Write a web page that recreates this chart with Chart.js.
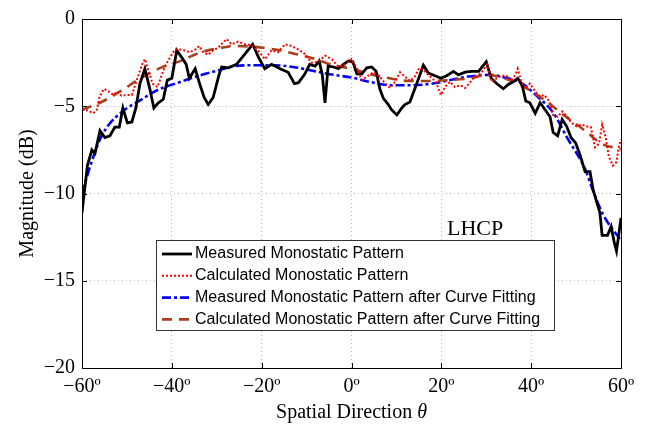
<!DOCTYPE html>
<html>
<head>
<meta charset="utf-8">
<script src="https://cdn.jsdelivr.net/npm/chart.js@4.4.1/dist/chart.umd.min.js"></script>
<style>
  html, body { margin: 0; padding: 0; background: #fff; }
  #wrap { width: 660px; height: 430px; position: relative; }
</style>
</head>
<body>
<div id="wrap"><canvas id="grafico" width="660" height="430"></canvas></div>
<script>
// Data
const measAngle = [-60, -58.8, -57.8, -57.1, -56, -54.9, -53.8, -52.7, -51.7, -50.9, -49.9, -48.9, -48, -47.1, -46, -44.9, -44, -43, -41.9, -41, -40, -38.9, -37.8, -36.8, -36.1, -34.8, -33.7, -32.8, -31.9, -30.8, -29.5, -28.9, -27.4, -25.6, -23.7, -22, -20.7, -19.3, -17.8, -15.9, -14.1, -12.7, -11.8, -10.4, -9.3, -8.1, -7.2, -6.5, -5.9, -5.2, -4, -2.9, -1.8, -0.7, 0.3, 1.2, 2.3, 3.4, 4.5, 5.5, 6.3, 7.1, 8.2, 8.9, 10.1, 11.2, 11.9, 13, 14.1, 15.3, 16, 17.1, 18.6, 19.9, 21.2, 22.7, 23.8, 25.3, 26.8, 28.3, 29.4, 30, 31.1, 32.3, 33.8, 34.9, 36, 37, 38, 38.8, 39.7, 40.9, 42, 43.1, 44.2, 44.9, 45.9, 46.9, 47.9, 48.9, 49.9, 50.9, 52, 53.1, 53.8, 54.6, 55.3, 55.8, 57, 57.8, 58.5, 59, 60];
const measDb = [-11.1, -8.4, -7.5, -7.7, -6.4, -6.8, -6.7, -6.2, -6.2, -5.1, -5.95, -5.9, -5.1, -3.7, -2.85, -4.0, -5.1, -4.8, -4.6, -3.5, -3.4, -1.8, -2.2, -2.6, -3.4, -2.85, -3.8, -4.5, -4.9, -4.5, -3.2, -2.75, -2.8, -2.6, -2.0, -1.45, -2.2, -2.85, -2.6, -2.85, -3.05, -3.7, -3.65, -3.15, -2.6, -2.7, -2.4, -3.2, -4.8, -2.7, -2.75, -2.85, -2.6, -2.4, -2.45, -3.15, -3.15, -2.8, -2.75, -3.0, -4.0, -4.55, -4.9, -5.2, -5.5, -5.1, -4.9, -4.75, -4.0, -3.15, -2.65, -3.1, -3.25, -3.4, -3.25, -3.0, -3.2, -3.05, -3.0, -3.0, -2.65, -2.45, -3.4, -3.7, -4.0, -3.75, -3.6, -3.4, -3.8, -4.7, -4.8, -5.4, -4.8, -5.2, -5.6, -6.5, -6.7, -5.75, -6.15, -6.8, -7.1, -7.8, -8.75, -8.75, -9.8, -10.5, -11.1, -12.4, -12.4, -11.9, -12.8, -13.3, -11.4];

const calcAngle = [-60, -58.6, -57.5, -56.7, -56.1, -55.1, -54.1, -53, -52.1, -51.2, -50, -48.9, -47.8, -46.7, -46, -45.2, -44.3, -43.2, -42.3, -41.3, -40.4, -39.3, -38.2, -37.1, -36, -34.8, -33.9, -33, -31.9, -30.8, -29.7, -29, -27.8, -26.7, -25.2, -23.7, -22.3, -20.7, -19.3, -17.8, -16.3, -14.8, -13.3, -11.8, -10.4, -8.9, -7.4, -5.9, -4.4, -2.9, -1.4, 0, 1.2, 2.3, 3.7, 4.9, 6.3, 7.5, 8.6, 9.7, 10.8, 11.9, 13, 14.1, 15.1, 16.1, 17.5, 18.8, 19.9, 20.8, 21.9, 23, 24.2, 25.3, 26.2, 27.1, 28.2, 29.3, 30.2, 31.2, 32.3, 33.4, 34.5, 35.5, 36.6, 37, 37.7, 38.8, 39.7, 40.9, 42, 42.9, 44, 44.9, 45.9, 46.9, 47.9, 49, 50.1, 51.2, 52.3, 53.3, 54.2, 55.1, 55.8, 56.6, 57.3, 58.2, 59, 59.4, 60];
const calcDb = [-5.2, -5.25, -5.4, -5.2, -4.45, -4.0, -4.15, -4.35, -4.15, -4.4, -4.35, -4.35, -3.5, -2.65, -2.3, -2.95, -3.7, -3.9, -3.25, -2.6, -2.2, -1.75, -1.75, -1.8, -1.9, -1.75, -1.55, -1.9, -2.05, -1.8, -1.65, -1.45, -1.15, -1.45, -1.3, -1.45, -1.5, -1.85, -2.3, -1.8, -1.9, -1.45, -1.55, -1.75, -2.0, -2.5, -2.45, -2.1, -2.3, -2.75, -2.6, -2.3, -2.85, -3.5, -3.25, -3.05, -3.3, -3.7, -3.95, -3.6, -3.05, -3.3, -3.55, -3.3, -2.8, -2.95, -3.3, -3.6, -4.35, -3.9, -3.6, -3.9, -3.8, -3.95, -3.7, -3.4, -3.25, -2.95, -2.6, -3.6, -3.4, -3.25, -3.25, -3.55, -3.15, -2.85, -3.5, -4.0, -3.7, -4.15, -4.45, -4.35, -4.7, -5.5, -5.6, -5.3, -5.55, -5.95, -6.15, -6.05, -6.15, -6.2, -7.35, -7.15, -6.05, -6.8, -7.9, -8.4, -8.2, -7.45, -6.9];

const measFitAngle = [-60, -58, -56, -54, -51, -47, -43, -38, -34, -29, -26, -21, -17, -13, -8, -4, 0, 4, 9, 13, 18, 22, 26, 31, 34, 38, 41, 45, 48, 52, 54, 56, 60];
const measFitDb = [-10.0, -8.3, -6.9, -6.05, -5.3, -4.65, -4.05, -3.6, -3.25, -2.9, -2.7, -2.65, -2.65, -2.75, -3.0, -3.2, -3.35, -3.6, -3.8, -3.8, -3.7, -3.5, -3.3, -3.2, -3.35, -3.7, -4.35, -5.4, -6.8, -8.6, -10.0, -11.2, -12.7];

const calcFitAngle = [-60, -56, -51.5, -47, -42.5, -38, -34, -29, -26, -21.5, -17, -12.5, -8, -4, 0, 4, 8.5, 13, 17.5, 22, 26.5, 30, 34, 38.5, 43, 47.5, 52, 55.7, 60];
const calcFitDb = [-5.2, -4.8, -4.15, -3.4, -2.8, -2.4, -1.95, -1.65, -1.55, -1.6, -1.75, -2.0, -2.3, -2.65, -2.85, -3.15, -3.4, -3.55, -3.55, -3.5, -3.4, -3.2, -3.4, -3.9, -4.65, -5.55, -6.4, -7.15, -7.45];

const xTicks = [-60, -40, -20, 0, 20, 40, 60];
const yTicks = [0, -5, -10, -15, -20];

const seriesNames = [
    'Measured Monostatic Pattern',
    'Calculated Monostatic Pattern',
    'Measured Monostatic Pattern after Curve Fitting',
    'Calculated Monostatic Pattern after Curve Fitting'
];

function pontos(xs, ys) {
    return xs.map((x, i) => ({ x: x, y: ys[i] }));
}

function comMenos(v) {
    return (v < 0 ? '\u2212' : '') + Math.abs(v);
}

const estilos = [
    { color: '#000000', width: 2.8, dash: [] },
    { color: '#ff0000', width: 2, dash: [2, 2] },
    { color: '#0000ff', width: 2.6, dash: [9, 3, 3, 3] },
    { color: '#a8401c', width: 2.6, dash: [10, 7] }
];

const dados = [
    pontos(measAngle, measDb),
    pontos(calcAngle, calcDb),
    pontos(measFitAngle, measFitDb),
    pontos(calcFitAngle, calcFitDb)
];

// Draw order: fitted lines on top like the picture
const ordem = [1, 0, 3, 2];

// Frame, inward ticks, legend box, LHCP label, x title
const moldura = {
    id: 'moldura',
    afterDraw(chart) {
        const ctx = chart.ctx;
        const a = chart.chartArea;
        const xs = chart.scales.x, ys = chart.scales.y;
        ctx.save();
        ctx.strokeStyle = '#000';
        ctx.lineWidth = 1;
        ctx.setLineDash([]);
        ctx.strokeRect(Math.round(a.left) + 0.5, Math.round(a.top) + 0.5, Math.round(a.right - a.left), Math.round(a.bottom - a.top));
        ctx.beginPath();
        xTicks.forEach(t => {
            const px = Math.round(xs.getPixelForValue(t)) + 0.5;
            ctx.moveTo(px, a.bottom); ctx.lineTo(px, a.bottom - 5);
            ctx.moveTo(px, a.top); ctx.lineTo(px, a.top + 5);
        });
        yTicks.forEach(t => {
            const py = Math.round(ys.getPixelForValue(t)) + 0.5;
            ctx.moveTo(a.left, py); ctx.lineTo(a.left + 5, py);
            ctx.moveTo(a.right, py); ctx.lineTo(a.right - 5, py);
        });
        ctx.stroke();

        // LHCP
        ctx.fillStyle = '#000';
        ctx.font = '22px "Liberation Serif"';
        ctx.textBaseline = 'alphabetic';
        ctx.textAlign = 'left';
        ctx.fillText('LHCP', 447, 235);

        // Legend
        const lx = 156.5, ly = 240.5, lw = 398, lh = 90;
        ctx.fillStyle = '#fff';
        ctx.fillRect(lx, ly, lw, lh);
        ctx.strokeStyle = '#333';
        ctx.strokeRect(lx, ly, lw, lh);
        ctx.font = '16px "Liberation Sans"';
        ctx.textBaseline = 'middle';
        seriesNames.forEach((nome, i) => {
            const y = 254 + i * 21.8;
            const s = estilos[i];
            ctx.strokeStyle = s.color;
            ctx.lineWidth = s.width;
            ctx.setLineDash(s.dash);
            ctx.beginPath();
            ctx.moveTo(162, y);
            ctx.lineTo(192, y);
            ctx.stroke();
            ctx.setLineDash([]);
            ctx.fillStyle = '#000';
            ctx.fillText(nome, 195, y);
        });

        // x axis title with italic theta
        const t1 = 'Spatial Direction ';
        ctx.font = '20px "Liberation Serif"';
        const w1 = ctx.measureText(t1).width;
        ctx.font = 'italic 20px "Liberation Serif"';
        const w2 = ctx.measureText('\u03b8').width;
        const cx = (a.left + a.right) / 2;
        const x0 = cx - (w1 + w2) / 2;
        ctx.textBaseline = 'alphabetic';
        ctx.font = '20px "Liberation Serif"';
        ctx.fillText(t1, x0, 418);
        ctx.font = 'italic 20px "Liberation Serif"';
        ctx.fillText('\u03b8', x0 + w1, 418);
        ctx.restore();
    }
};

const datasets = ordem.map(i => ({
    label: seriesNames[i],
    data: dados[i],
    borderColor: estilos[i].color,
    borderWidth: estilos[i].width,
    borderDash: estilos[i].dash,
    pointRadius: 0,
    fill: false,
    tension: i >= 2 ? 0.4 : 0,
    cubicInterpolationMode: i >= 2 ? 'monotone' : 'default'
}));

new Chart(document.getElementById('grafico').getContext('2d'), {
    type: 'line',
    data: { datasets: datasets },
    options: {
        responsive: false,
        animation: false,
        parsing: true,
        layout: { padding: { left: 0, top: 12, right: 39, bottom: 0 } },
        plugins: { legend: { display: false }, tooltip: { enabled: false } },
        scales: {
            x: {
                type: 'linear',
                min: -60, max: 60,
                afterFit: s => { s.height = 62; },
                afterBuildTicks: s => { s.ticks = xTicks.map(v => ({ value: v })); },
                ticks: {
                    color: '#000',
                    padding: 7,
                    maxRotation: 0,
                    font: { family: 'Liberation Serif', size: 20 },
                    callback: v => comMenos(v) + '\u00ba'
                },
                grid: { color: '#bdbdbd', lineWidth: 1, drawTicks: false },
                border: { display: false, dash: [1, 3] }
            },
            y: {
                min: -20, max: 0,
                afterFit: s => { s.width = 82; },
                afterBuildTicks: s => { s.ticks = yTicks.map(v => ({ value: v })); },
                ticks: {
                    color: '#000',
                    padding: 7,
                    font: { family: 'Liberation Serif', size: 20 },
                    callback: v => comMenos(v)
                },
                grid: { color: '#bdbdbd', lineWidth: 1, drawTicks: false },
                border: { display: false, dash: [1, 3] },
                title: {
                    display: true,
                    text: 'Magnitude (dB)',
                    color: '#000',
                    font: { family: 'Liberation Serif', size: 20 },
                    padding: { top: 16, bottom: 0 }
                }
            }
        }
    },
    plugins: [moldura]
});
</script>
</body>
</html>
